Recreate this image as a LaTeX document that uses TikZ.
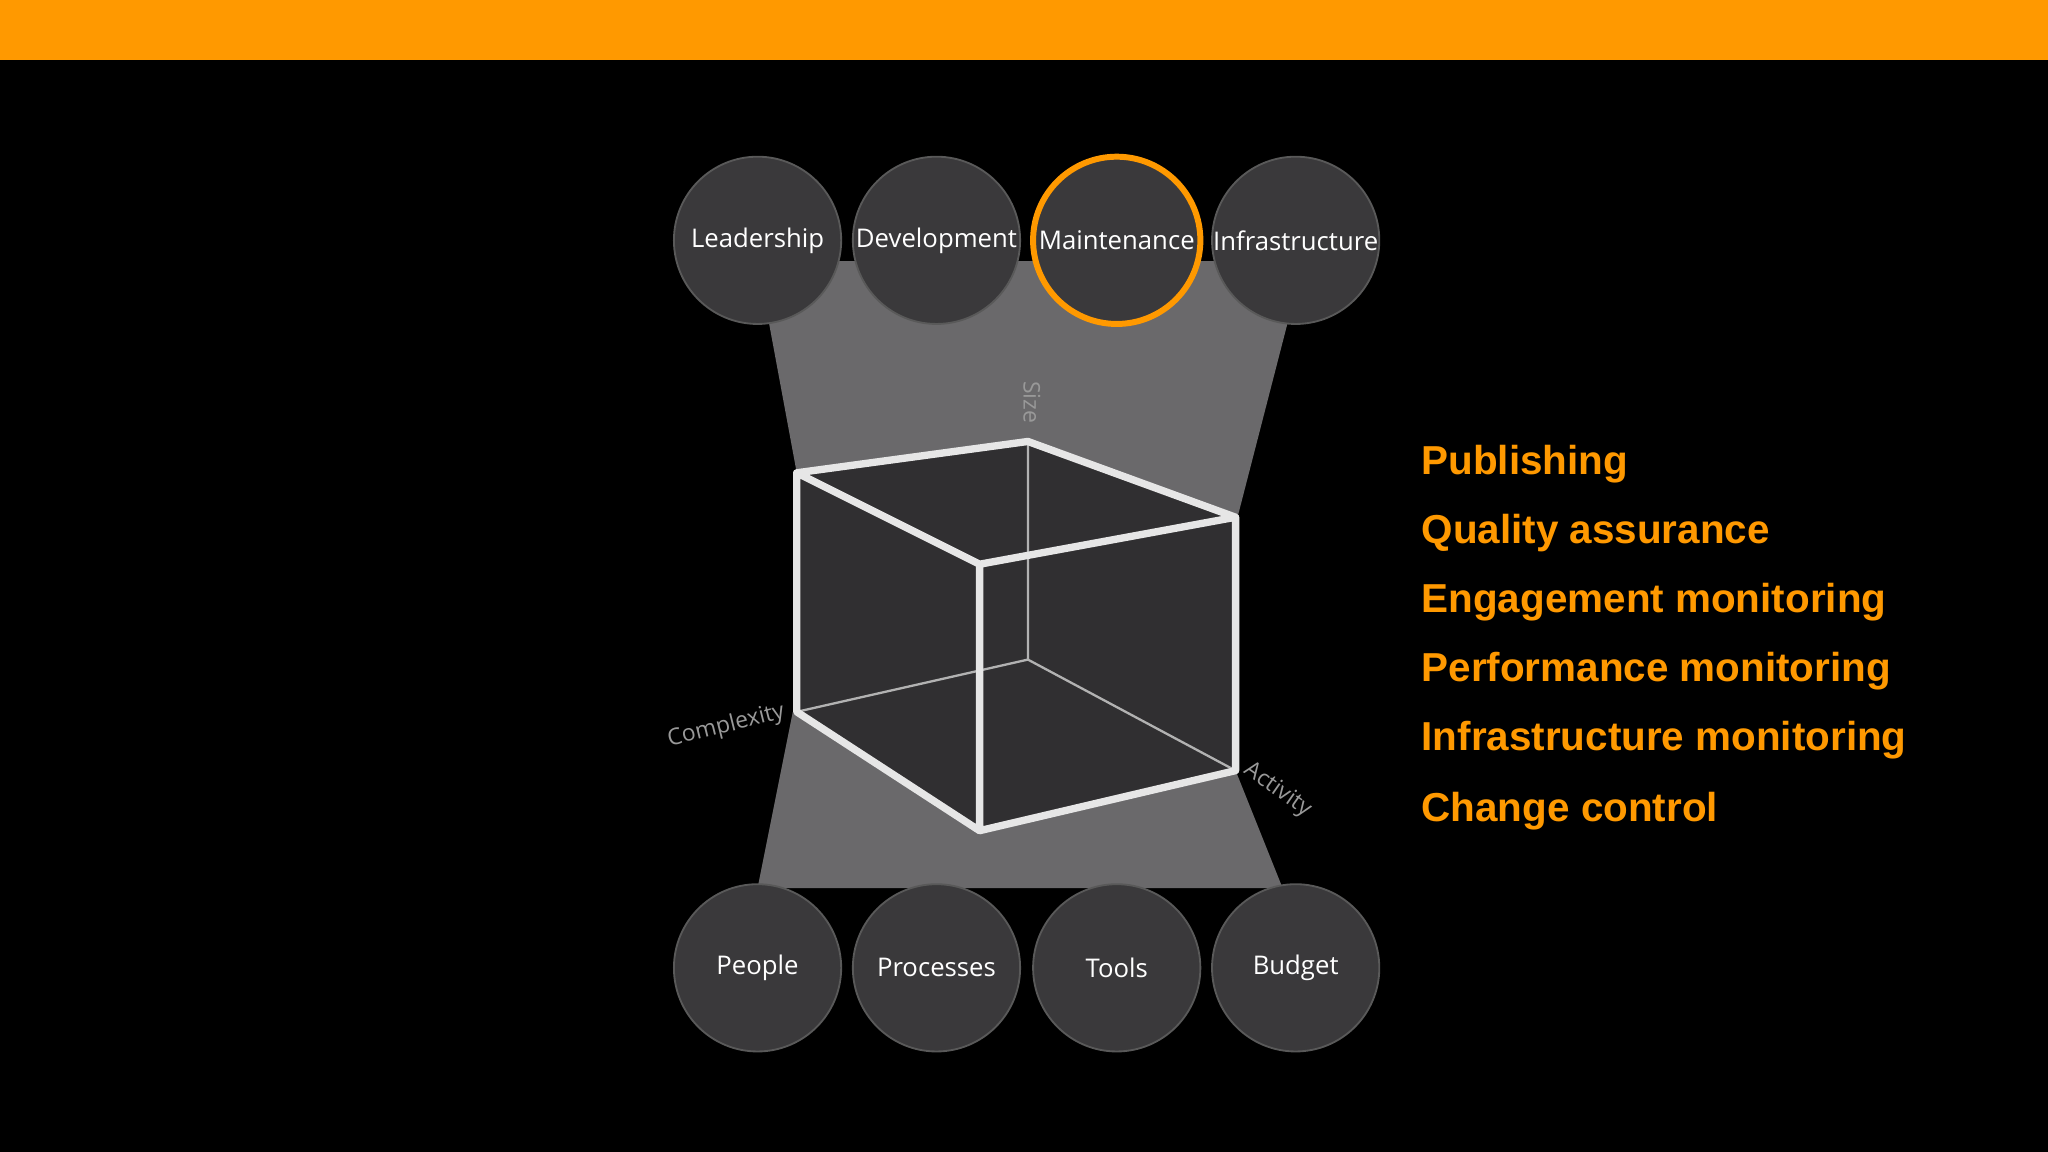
\documentclass[tikz,border=0pt]{standalone}
\usepackage{fontspec}
\setmainfont{Open Sans}
\newfontfamily\boldsans{Liberation Sans}
\definecolor{org}{HTML}{FF9900}
\definecolor{circ}{HTML}{3A393B}
\definecolor{funnel}{HTML}{6A696B}
\definecolor{face}{HTML}{302F31}
\definecolor{edge}{HTML}{E6E6E6}
\begin{document}
\begin{tikzpicture}[x=0.01cm,y=-0.01cm,
  ball/.style={circle,minimum size=128\pgflinewidth,inner sep=0pt,fill=circ,draw=gray!70!black,line width=0.4pt,text=white,font=\fontsize{5.6}{6}\selectfont},
  item/.style={anchor=west,text=org,font=\boldsans\bfseries\fontsize{8.8}{10}\selectfont},
  axlab/.style={text=gray!80,font=\fontsize{5}{6}\selectfont}]
\fill[black] (0,0) rectangle (1568,882);
\useasboundingbox (0,0) rectangle (1568,882);
\fill[org] (0,0) rectangle (1568,46);
% funnels
\fill[funnel] (580,200) -- (998,200) -- (948,394) -- (787,338) -- (610,362) -- cycle;
\fill[funnel] (607,545) -- (750,636) -- (946,590) -- (982,680) -- (580,680) -- cycle;
% cube
\coordinate (A) at (610,362); \coordinate (B) at (787,338);
\coordinate (C) at (946,396); \coordinate (D) at (750,432);
\coordinate (E) at (610,545); \coordinate (F) at (750,636);
\coordinate (G) at (946,590); \coordinate (H) at (787,505);
\fill[face] (A) -- (B) -- (C) -- (G) -- (F) -- (E) -- cycle;
\draw[gray!60,line width=0.5pt] (B) -- (H) (E) -- (H) -- (G);
\draw[edge,line width=1.6pt,line join=round] (A) -- (B) -- (C) -- (D) -- cycle (D) -- (F) (A) -- (E) -- (F) -- (G) -- (C);
\node[axlab,rotate=-90] (sz) at (790,308) {Size};
\node[axlab,rotate=14] (cx) at (556,556) {Complexity};
\node[axlab,rotate=-35] (ac) at (978,605) {Activity};
% circles
\foreach \n/\x/\t in {l/580/Leadership,d/717/Development,i/992/Infrastructure}
  \node[ball,minimum size=1.28cm] (\n) at (\x,184) {\t};
\node[ball,minimum size=1.28cm,draw=org,line width=1.3pt] (m) at (855,184) {Maintenance};
\foreach \n/\x/\t in {p/580/People,r/717/Processes,t/855/Tools,b/992/Budget}
  \node[ball,minimum size=1.28cm] (\n) at (\x,741) {\t};
% list
\node[item] (t1) at (1076,355) {Publishing};
\node[item] (t2) at (1076,408) {Quality assurance};
\node[item] (t3) at (1076,461) {Engagement monitoring};
\node[item] (t4) at (1076,514) {Performance monitoring};
\node[item] (t5) at (1076,567) {Infrastructure monitoring};
\node[item] (t6) at (1076,621) {Change control};
\end{tikzpicture}
\end{document}
